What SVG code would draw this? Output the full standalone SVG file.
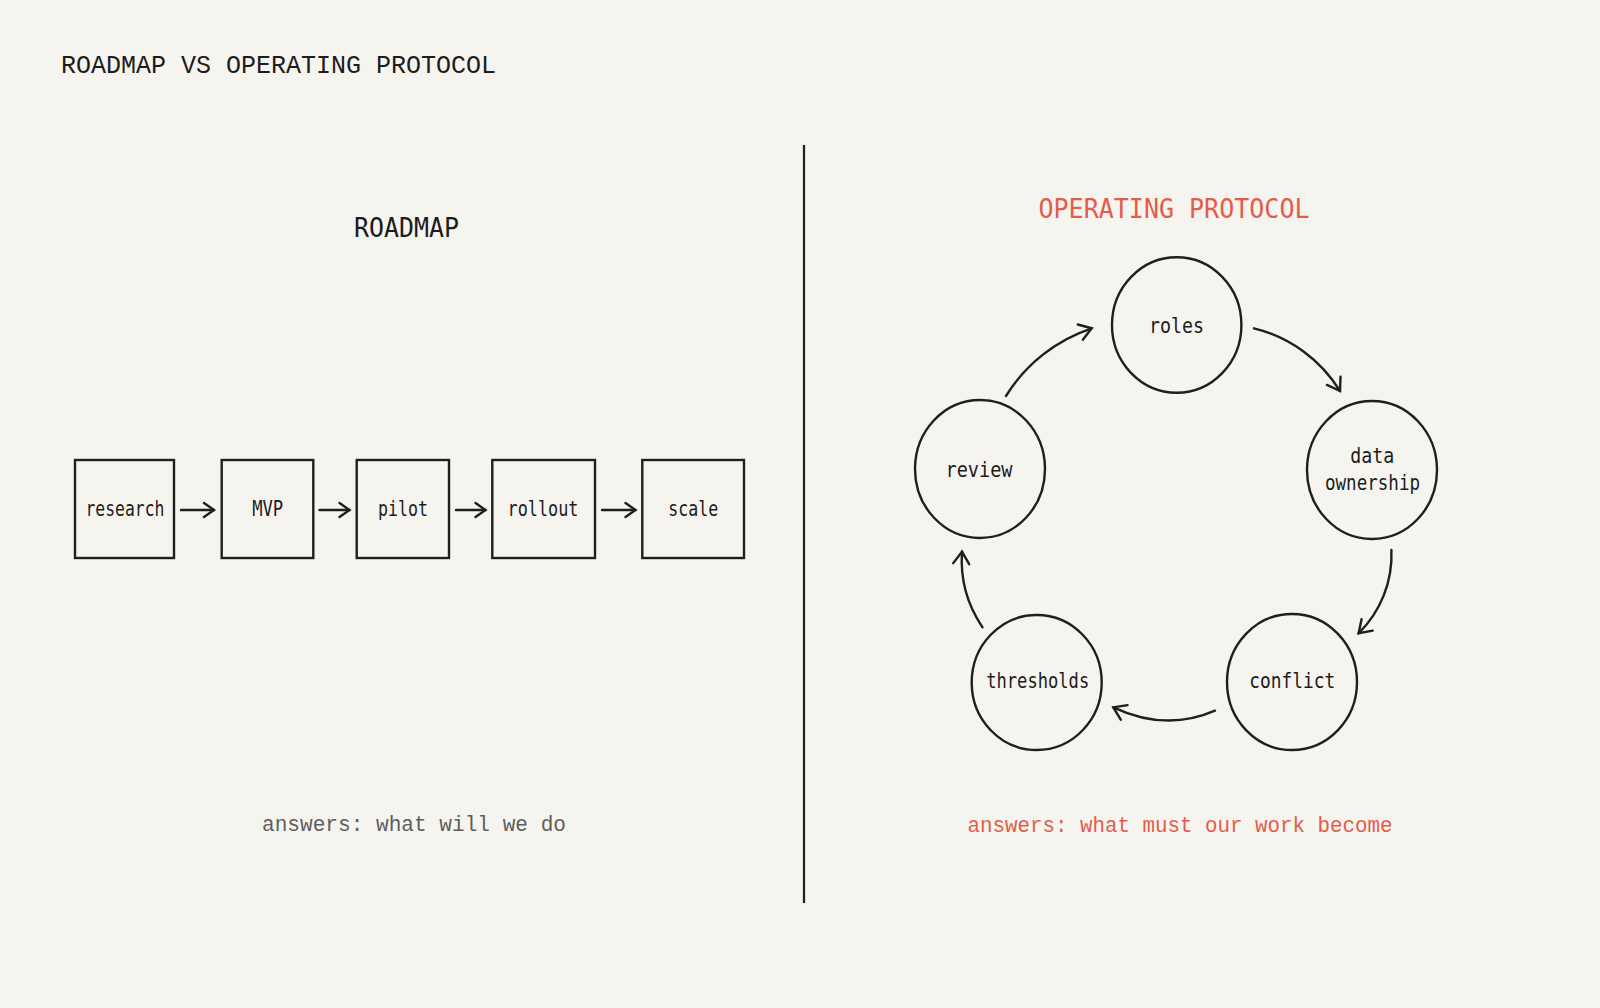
<svg xmlns="http://www.w3.org/2000/svg" width="1600" height="1008" viewBox="0 0 1600 1008">
  <defs>
    <style>
      .title { font-family: "Liberation Mono", "DejaVu Sans Mono", monospace; font-size: 25px; fill: #1c1c1c; }
      .head { font-family: "DejaVu Sans Mono", "Liberation Mono", monospace; font-size: 26px; text-anchor: middle; }
      .lbl { font-family: "DejaVu Sans Mono", "Liberation Mono", monospace; font-size: 21px; fill: #1c1c1c; text-anchor: middle; }
      .ans { font-family: "Liberation Mono", "Courier New", monospace; font-size: 22px; }
      .box { fill: none; stroke: #1f1f1f; stroke-width: 2.4; }
      .node { fill: none; stroke: #1f1f1f; stroke-width: 2.4; }
      .conn { fill: none; stroke: #1f1f1f; stroke-width: 2.4; stroke-linecap: round; }
    </style>
    <marker id="headS" markerUnits="userSpaceOnUse" viewBox="-12 -9 14 18" refX="0" refY="0" markerWidth="14" markerHeight="18" orient="auto" overflow="visible">
      <path d="M-10,-7 L0,0 L-10,7" fill="none" stroke="#1f1f1f" stroke-width="2.4" stroke-linecap="round" stroke-linejoin="miter"/>
    </marker>
    <marker id="headC" markerUnits="userSpaceOnUse" viewBox="-14 -10 16 20" refX="0" refY="0" markerWidth="16" markerHeight="20" orient="auto" overflow="visible">
      <path d="M-12,-8 L0,0 L-12,8" fill="none" stroke="#1f1f1f" stroke-width="2.4" stroke-linecap="round" stroke-linejoin="miter"/>
    </marker>
  </defs>

  <rect x="0" y="0" width="1600" height="1008" fill="#f6f4ef"/>

  <text class="title" x="61" y="73" textLength="435" lengthAdjust="spacingAndGlyphs">ROADMAP VS OPERATING PROTOCOL</text>

  <line x1="804" y1="145" x2="804" y2="903" stroke="#1f1f1f" stroke-width="2.2"/>

  <text class="head" x="406.5" y="237" fill="#1c1c1c" textLength="105" lengthAdjust="spacingAndGlyphs">ROADMAP</text>
  <text class="head" x="1174" y="218" fill="#e35d4a" textLength="271" lengthAdjust="spacingAndGlyphs">OPERATING PROTOCOL</text>

  <g id="node-research">
    <rect class="box" x="75" y="460" width="99" height="98"/>
    <text class="lbl" x="125" y="516" textLength="79" lengthAdjust="spacingAndGlyphs">research</text>
  </g>
  <g id="node-mvp">
    <rect class="box" x="221.7" y="460" width="91.6" height="98"/>
    <text class="lbl" x="267.7" y="516" textLength="31" lengthAdjust="spacingAndGlyphs">MVP</text>
  </g>
  <g id="node-pilot">
    <rect class="box" x="356.7" y="460" width="92.3" height="98"/>
    <text class="lbl" x="403" y="516" textLength="50" lengthAdjust="spacingAndGlyphs">pilot</text>
  </g>
  <g id="node-rollout">
    <rect class="box" x="492.3" y="460" width="102.7" height="98"/>
    <text class="lbl" x="543" y="516" textLength="71" lengthAdjust="spacingAndGlyphs">rollout</text>
  </g>
  <g id="node-scale">
    <rect class="box" x="642.3" y="460" width="101.7" height="98"/>
    <text class="lbl" x="693.3" y="516" textLength="50" lengthAdjust="spacingAndGlyphs">scale</text>
  </g>

  <g id="node-roles">
    <ellipse class="node" cx="1176.7" cy="325" rx="64.7" ry="67.7"/>
    <text class="lbl" x="1176.5" y="333" textLength="55" lengthAdjust="spacingAndGlyphs">roles</text>
  </g>
  <g id="node-data-ownership">
    <ellipse class="node" cx="1372" cy="470" rx="65" ry="69"/>
    <text class="lbl" x="1372.3" y="463" textLength="44" lengthAdjust="spacingAndGlyphs">data</text>
    <text class="lbl" x="1372.5" y="490" textLength="95" lengthAdjust="spacingAndGlyphs">ownership</text>
  </g>
  <g id="node-conflict">
    <ellipse class="node" cx="1292" cy="682" rx="65" ry="68"/>
    <text class="lbl" x="1292.3" y="688" textLength="86" lengthAdjust="spacingAndGlyphs">conflict</text>
  </g>
  <g id="node-thresholds">
    <ellipse class="node" cx="1036.7" cy="682.5" rx="65" ry="67.5"/>
    <text class="lbl" x="1037.7" y="688" textLength="103" lengthAdjust="spacingAndGlyphs">thresholds</text>
  </g>
  <g id="node-review">
    <ellipse class="node" cx="980" cy="469" rx="65" ry="69"/>
    <text class="lbl" x="979" y="477" textLength="67" lengthAdjust="spacingAndGlyphs">review</text>
  </g>

  <g id="connectors">
    <line class="conn" x1="181" y1="510" x2="214" y2="510" marker-end="url(#headS)"/>
    <line class="conn" x1="319.5" y1="510" x2="349.5" y2="510" marker-end="url(#headS)"/>
    <line class="conn" x1="456" y1="510" x2="485.5" y2="510" marker-end="url(#headS)"/>
    <line class="conn" x1="602" y1="510" x2="635.5" y2="510" marker-end="url(#headS)"/>

    <path class="conn" d="M1006,396 A160,160 0 0 1 1091.7,328.3" marker-end="url(#headC)"/>
    <path class="conn" d="M1254,328.3 A140,140 0 0 1 1340,391" marker-end="url(#headC)"/>
    <path class="conn" d="M1391.4,550 A110,110 0 0 1 1358.6,633.3" marker-end="url(#headC)"/>
    <path class="conn" d="M1215,710.7 Q1166,732 1113.3,707.3" marker-end="url(#headC)"/>
    <path class="conn" d="M982.5,627.3 A120,120 0 0 1 962,551.7" marker-end="url(#headC)"/>
  </g>

  <text class="ans" x="262" y="830.5" fill="#5e5e5e" textLength="304" lengthAdjust="spacingAndGlyphs">answers: what will we do</text>
  <text class="ans" x="967.5" y="831.5" fill="#e35d4a" textLength="425" lengthAdjust="spacingAndGlyphs">answers: what must our work become</text>
</svg>
